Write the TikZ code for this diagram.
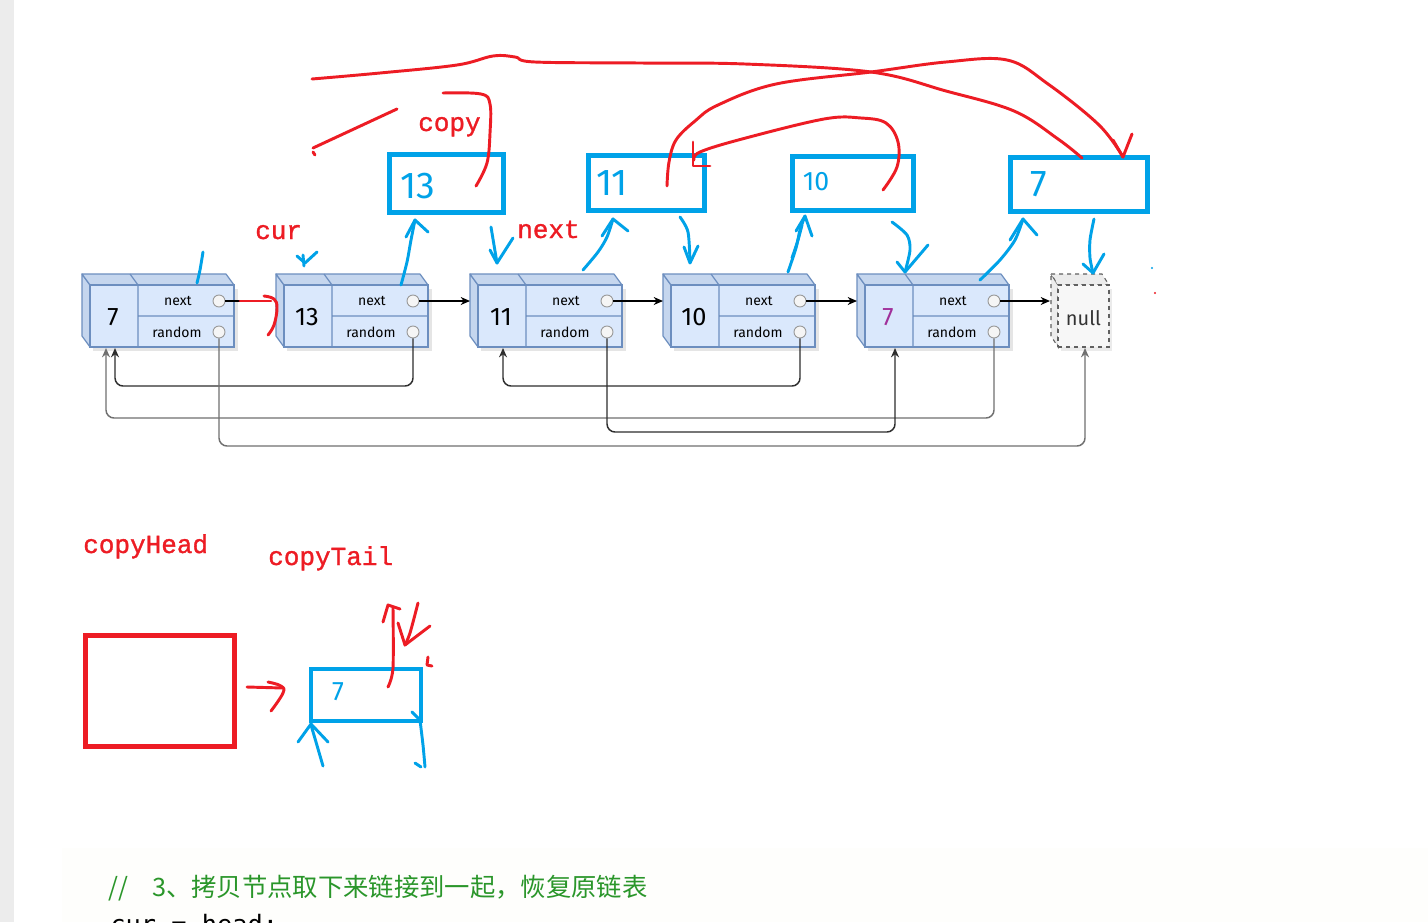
\documentclass[tikz,border=0pt]{standalone}
\usepackage{fontspec}
\setmainfont{Fira Sans}
\newfontfamily\redmono[FakeBold=1.2]{Liberation Mono}
\newfontfamily\cjkfont{Noto Sans CJK SC}
\newfontfamily\codefont{DejaVu Sans Mono}
\usetikzlibrary{calc,arrows.meta}
\definecolor{pred}{RGB}{237,28,36}
\definecolor{pblue}{RGB}{0,162,232}
\definecolor{dfill}{HTML}{DAE8FC}
\definecolor{dside}{HTML}{C5D6EE}
\definecolor{dline}{HTML}{6C8EBF}
\definecolor{cgreen}{HTML}{2A962A}
\definecolor{ppurple}{HTML}{A0309A}
\definecolor{darkln}{HTML}{2E2E2E}
\definecolor{grayln}{HTML}{707070}
\definecolor{sidebar}{HTML}{ECECEC}
\definecolor{codebg}{HTML}{FEFEFC}
\tikzset{
  hand/.style={line width=2.2pt, line cap=round, line join=round},
  redhand/.style={hand, draw=pred},
  bluehand/.style={hand, draw=pblue},
  front/.style={draw=dline, fill=dfill, line width=0.9pt, minimum width=108pt, minimum height=46.5pt, inner sep=0pt},
  face/.style={draw=dline, fill=dside, line width=0.9pt, line join=round},
  numtxt/.style={font=\fontsize{19pt}{21pt}\selectfont, inner sep=0pt},
  fieldtxt/.style={font=\fontsize{10.5pt}{12pt}\selectfont, inner sep=0pt},
  ptr/.style={circle, draw=gray!80, fill=gray!8, line width=0.7pt, minimum size=9pt, inner sep=0pt},
  nextarr/.style={draw=black, line width=0.9pt, -{Stealth[length=7pt,width=6pt]}},
  randd/.style={draw=darkln, line width=1.1pt, rounded corners=6pt, -{Stealth[length=7pt,width=6pt]}},
  randg/.style={draw=grayln, line width=1.1pt, rounded corners=6pt, -{Stealth[length=7pt,width=6pt]}},
  copybox/.style={draw=pblue, line width=3.75pt, inner sep=0pt},
  redtxt/.style={text=pred, font=\redmono\fontsize{19.5pt}{22pt}\selectfont, inner sep=0pt, anchor=base west},
  bluenum/.style={text=pblue, font=\fontsize{28pt}{30pt}\selectfont, inner sep=0pt}
}
\newcommand\lnode[3]{%
\begin{scope}[shift={(#2,0)}]
  \fill[black,opacity=0.10] (3,289) -- (148,289) -- (148,351) -- (3,351) -- cycle;
  \path[face] (-8,274) -- (0,285) -- (0,347) -- (-8,336) -- cycle;
  \path[face] (-8,274) -- (136,274) -- (144,285) -- (0,285) -- cycle;
  \node[front] (#1) at (72,316) {};
  \draw[dline, line width=0.9pt] (40,274) -- (48,285) -- (48,347) (48,316) -- (144,316);
  \node[numtxt] (#1v) at (23,317) {#3};
  \node[fieldtxt] (#1nt) at (88,301) {next};
  \node[fieldtxt] (#1rt) at (87,332) {random};
  \node[ptr] (#1n) at (129,301) {};
  \node[ptr] (#1r) at (129,332) {};
  \coordinate (#1in) at (-8,301);
\end{scope}}
\begin{document}
\begin{tikzpicture}[x=0.75pt,y=-0.75pt]
\useasboundingbox (0,0) rectangle (1428,922);
\fill[white] (0,0) rectangle (1428,922);
\fill[sidebar] (0,0) rectangle (14,922);
\clip (0,0) rectangle (1428,922);

% ---------- original list ----------
\lnode{L1}{90}{7}
\lnode{L2}{284}{13}
\lnode{L3}{478}{11}
\lnode{L4}{671}{10}
\lnode{L5}{865}{{\color{ppurple}7}}

% null node
\fill[black,opacity=0.08] (1061,289) -- (1112,289) -- (1112,351) -- (1061,351) -- cycle;
\path[draw=gray!75!black, fill=gray!15, dashed, line width=0.8pt] (1051,274) -- (1058,285) -- (1058,347) -- (1051,336) -- cycle;
\path[draw=gray!75!black, fill=gray!15, dashed, line width=0.8pt] (1051,274) -- (1102,274) -- (1109,285) -- (1058,285) -- cycle;
\node[draw=gray!75!black, fill=gray!6, dashed, line width=0.8pt, minimum width=38.25pt, minimum height=46.5pt, inner sep=0pt] (NL) at (1083.5,316) {};
\node[font=\fontsize{15pt}{17pt}\selectfont, text=black!80, inner sep=0pt] (NLt) at (1083.5,318) {null};
\coordinate (NLin) at (1050,301);

% next pointers
\coordinate (rs) at (240,301);
\draw[black, line width=0.9pt] (L1n.east) -- (rs);
\draw[nextarr] (L2n.east) -- (L3in);
\draw[nextarr] (L3n.east) -- (L4in);
\draw[nextarr] (L4n.east) -- (L5in);
\draw[nextarr] (L5n.east) -- (NLin);

% random pointers
\coordinate (L1a) at (115,348);
\coordinate (L1b) at (106,348);
\coordinate (L3a) at (503,348);
\coordinate (L5a) at (895,348);
\coordinate (NLa) at (1085,348);
\draw[randd] (L2r.south) -- (L2r.south |- 0,386) -- (L1a |- 0,386) -- (L1a);
\draw[randg] (L5r.south) -- (L5r.south |- 0,418) -- (L1b |- 0,418) -- (L1b);
\draw[randg] (L1r.south) -- (L1r.south |- 0,446) -- (NLa |- 0,446) -- (NLa);
\draw[randd] (L4r.south) -- (L4r.south |- 0,386) -- (L3a |- 0,386) -- (L3a);
\draw[randd] (L3r.south) -- (L3r.south |- 0,432) -- (L5a |- 0,432) -- (L5a);

% ---------- copy boxes ----------
\node[copybox, minimum width=85.5pt, minimum height=43.5pt] (C1) at (446.5,183.5) {};
\node[copybox, minimum width=87pt, minimum height=41.25pt] (C2) at (646.5,183) {};
\node[copybox, minimum width=90.75pt, minimum height=40.5pt] (C3) at (853,183.5) {};
\node[copybox, minimum width=102.75pt, minimum height=40.5pt] (C4) at (1079,184.5) {};
\node[bluenum] (C1t) at (418,186) {13};
\node[bluenum] (C2t) at (612,183) {11};
\node[bluenum, font=\fontsize{20pt}{22pt}\selectfont] (C3t) at (816,182) {10};
\node[bluenum] (C4t) at (1039,184) {7};

% ---------- red hand strokes (top) ----------
\draw[redhand] plot[smooth, tension=0.6] coordinates {(312,79) (380,73) (457,65) (493,56) (515,57) (535,62) (640,63) (745,64) (871,72) (946,91) (1014,111) (1058,139) (1082,158)};
\draw[redhand] plot[smooth, tension=0.6] coordinates {(667,186) (669,162) (676,140) (695,121) (718,105) (776,84) (871,72) (946,62) (1007,60) (1048,84) (1099,125) (1123,157)};
\draw[redhand] (1113,140) -- (1123,157) -- (1132,134);
\draw[redhand] plot[smooth, tension=0.6] coordinates {(883,190) (897,167) (898,142) (886,123) (861,118) (824,119) (742,139) (700,152) (694,160)};
\draw[redhand] (693,142) -- (693,166) -- (710,166);
\draw[redhand] plot[smooth, tension=0.6] coordinates {(476,186) (487,163) (490,133) (490,104) (481,94) (443,93)};
\draw[redhand] (313,148) -- (397,109);
\draw[redhand] (313,152) -- (315,155);
\draw[redhand] (rs) -- (271,301);
\draw[redhand] plot[smooth, tension=0.7] coordinates {(264,296) (274,299) (277,308) (274,325) (268,335)};
\fill[pred] (1155,293) circle (1.2);
\fill[pblue] (1152,268) circle (1.2);

% red labels
\node[redtxt] (copyL) at (418,131) {copy};
\node[redtxt] (curL) at (255,239) {cur};
\node[redtxt] (nextL) at (517,238) {next};

% ---------- blue hand strokes (top) ----------
\draw[bluehand] plot[smooth] coordinates {(203,252) (200,270) (197,283)};
\draw[bluehand] (297,256) -- (305,263) -- (317,252);
\draw[bluehand] (303,255) -- (304,266);
\draw[bluehand] plot[smooth] coordinates {(401,285) (407,262) (411,240) (415,220)};
\draw[bluehand] (406,237) -- (415,220) -- (428,232);
\draw[bluehand] plot[smooth] coordinates {(491,227) (494,245) (497,263)};
\draw[bluehand] (490,250) -- (497,263) -- (513,238);
\draw[bluehand] plot[smooth] coordinates {(583,270) (598,252) (607,237) (613,219)};
\draw[bluehand] (602,236) -- (613,219) -- (628,231);
\draw[bluehand] plot[smooth] coordinates {(680,217) (688,232) (690,262)};
\draw[bluehand] (684,247) -- (690,263) -- (698,246);
\draw[bluehand] plot[smooth] coordinates {(788,272) (796,248) (800,230) (805,216)};
\draw[bluehand] (796,231) -- (805,216) -- (812,236);
\draw[bluehand] plot[smooth] coordinates {(792,258) (798,240) (802,225)};
\draw[bluehand] plot[smooth] coordinates {(892,222) (907,235) (910,250) (905,272)};
\draw[bluehand] (897,262) -- (905,272) -- (928,245);
\draw[bluehand] plot[smooth] coordinates {(980,280) (1000,260) (1015,240) (1023,219)};
\draw[bluehand] (1010,240) -- (1023,219) -- (1037,235);
\draw[bluehand] plot[smooth] coordinates {(1094,219) (1090,240) (1090,258) (1093,273)};
\draw[bluehand] (1083,264) -- (1093,273) -- (1104,254);

% ---------- bottom part ----------
\node[redtxt] (headL) at (83,553) {copyHead};
\node[redtxt] (tailL) at (268,565) {copyTail};
\node[draw=pred, line width=3.75pt, minimum width=112pt, minimum height=83.25pt, inner sep=0pt] (HB) at (160.25,691) {};
\node[copybox, line width=3.4pt, minimum width=82.5pt, minimum height=39pt] (TB) at (366,695) {};
\node[bluenum, font=\fontsize{20pt}{22pt}\selectfont] (TBt) at (338,692) {7};
\draw[redhand] (247,687) -- (283,688);
\draw[redhand] plot[smooth, tension=0.7] coordinates {(268,682) (281,686) (283,693) (271,711)};
\draw[redhand] plot[smooth] coordinates {(388,687) (393,668) (393,608)};
\draw[redhand] (383,622) -- (388,605) -- (400,609);
\draw[redhand] plot[smooth] coordinates {(418,603) (410,633) (405,645)};
\draw[redhand] (398,623) -- (405,645) -- (430,626);
\draw[redhand] (428,657) -- (427,665) -- (432,666);
\draw[bluehand] plot[smooth] coordinates {(323,766) (316,742) (311,725)};
\draw[bluehand] (298,742) -- (311,724) -- (328,742);
\draw[bluehand] plot[smooth] coordinates {(420,720) (423,745) (425,767)};
\draw[bluehand] (412,712) -- (420,720);
\draw[bluehand] (415,763) -- (421,767);

% ---------- code text ----------
\fill[codebg] (62,848) rectangle (1428,922);
\node[anchor=west, inner sep=0pt, text=cgreen, font=\cjkfont\fontsize{19pt}{21pt}\selectfont] (cmt) at (108,888) {\makebox[33pt][l]{//}3、拷贝节点取下来链接到一起，恢复原链表};
\node[anchor=north west, inner sep=0pt, text=black, font=\codefont\fontsize{19pt}{21pt}\selectfont] (code) at (110,914) {cur = head;};
\end{tikzpicture}
\end{document}
